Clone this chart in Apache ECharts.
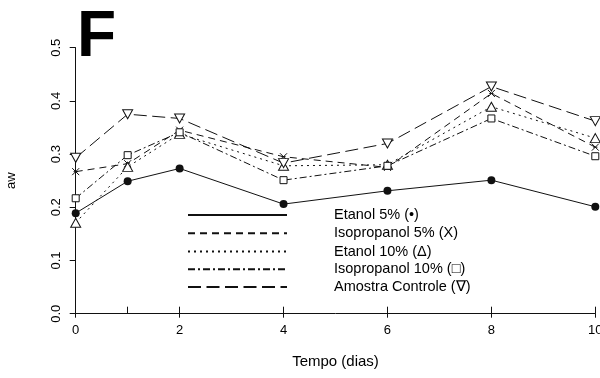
<!DOCTYPE html>
<html>
<head>
<meta charset="utf-8">
<script src="https://cdn.jsdelivr.net/npm/echarts@6/dist/echarts.min.js"></script>
<style>
  html, body { margin: 0; padding: 0; background: #fff; }
  #main { width: 600px; height: 378px; }
</style>
</head>
<body>
<div id="main"></div>
<script>
// dias de armazenamento
var dias = [0, 1, 2, 4, 6, 8, 10];
var seriesNames = ['Etanol 5% (\u2022)', 'Isopropanol 5% (X)', 'Etanol 10% (\u0394)', 'Isopropanol 10% (\u25a1)', 'Amostra Controle (\u2207)'];
// aw
var etanol5 = [0.189, 0.249, 0.273, 0.206, 0.231, 0.251, 0.201];
var isoprop5 = [0.267, 0.282, 0.345, 0.295, 0.275, 0.414, 0.313];
var etanol10 = [0.171, 0.276, 0.338, 0.278, 0.280, 0.389, 0.330];
var isoprop10 = [0.217, 0.298, 0.341, 0.251, 0.278, 0.367, 0.296];
var controle = [0.293, 0.375, 0.367, 0.283, 0.320, 0.427, 0.362];
var xTicks = [0, 2, 4, 6, 8, 10];
var xTicksMenores = [0, 1, 2, 4, 6, 8, 10];

var cor = '#111';
var fonte = 'Liberation Sans, Arial, sans-serif';

function pares(vals) {
  return dias.map(function (d, i) { return [d, vals[i]]; });
}

var hollow = { color: '#fff', borderColor: cor, borderWidth: 1 };

var myChart = echarts.init(document.getElementById('main'), null, { renderer: 'canvas' });

var option = {
  animation: false,
  backgroundColor: '#fff',
  title: {
    text: 'F',
    left: 77,
    top: 6,
    padding: 0,
    textStyle: { fontFamily: fonte, fontSize: 64, fontWeight: 'bold', color: '#000' }
  },
  grid: { left: 75.7, right: 4.7, top: 47.7, bottom: 64.3, containLabel: false, outerBoundsMode: 'none' },
  legend: {
    orient: 'vertical',
    left: 182,
    top: 202.5,
    itemWidth: 99,
    itemHeight: 14,
    itemGap: 2.7,
    itemStyle: { opacity: 0 },
    textStyle: { fontFamily: fonte, fontSize: 14.5, lineHeight: 14, color: '#000', padding: [0, 0, 0, 42] },
    data: seriesNames
  },
  xAxis: [{
    type: 'value',
    min: 0, max: 10, interval: 2,
    name: 'Tempo (dias)',
    nameLocation: 'middle',
    nameGap: 41,
    nameTextStyle: { fontFamily: fonte, fontSize: 15, color: '#000' },
    axisLine: { lineStyle: { color: cor, width: 1 } },
    axisTick: { inside: false, length: 4, lineStyle: { color: cor } },
    axisLabel: { margin: 10, fontFamily: fonte, fontSize: 13, color: '#000', customValues: xTicks },
    splitLine: { show: false }
  }, {
    type: 'value',
    min: 0, max: 10,
    position: 'bottom',
    axisLine: { show: false },
    axisTick: { show: true, inside: true, length: 7, lineStyle: { color: cor }, customValues: xTicksMenores },
    axisLabel: { show: false },
    splitLine: { show: false }
  }],
  yAxis: {
    type: 'value',
    min: 0, max: 0.5, interval: 0.1,
    name: 'aw',
    nameLocation: 'middle',
    nameRotate: 90,
    nameGap: 58,
    nameTextStyle: { fontFamily: fonte, fontSize: 13, color: '#000' },
    axisLine: { show: true, lineStyle: { color: cor, width: 1 } },
    axisTick: { show: true, inside: false, length: 6, lineStyle: { color: cor } },
    axisLabel: {
      rotate: 90, margin: 13, fontFamily: fonte, fontSize: 13, color: '#000',
      formatter: function (v) { return v.toFixed(1); }
    },
    splitLine: { show: false }
  },
  series: [
    {
      name: seriesNames[0], type: 'line', data: pares(etanol5),
      symbol: 'circle', symbolSize: 8,
      itemStyle: { color: cor },
      lineStyle: { color: cor, width: 1, type: 'solid' }
    },
    {
      name: seriesNames[1], type: 'line', data: pares(isoprop5),
      symbol: 'path://M0,0L10,10M10,0L0,10M2,5L8,5', symbolSize: 7,
      itemStyle: { color: 'none', borderColor: cor, borderWidth: 1 },
      lineStyle: { color: cor, width: 1, type: [7, 5] }
    },
    {
      name: seriesNames[2], type: 'line', data: pares(etanol10),
      symbol: 'triangle', symbolSize: [10, 9],
      itemStyle: hollow,
      lineStyle: { color: cor, width: 1, type: [2, 4] }
    },
    {
      name: seriesNames[3], type: 'line', data: pares(isoprop10),
      symbol: 'rect', symbolSize: 7,
      itemStyle: hollow,
      lineStyle: { color: cor, width: 1, type: [7, 3, 2, 3] }
    },
    {
      name: seriesNames[4], type: 'line', data: pares(controle),
      symbol: 'triangle', symbolRotate: 180, symbolSize: [10, 9],
      itemStyle: hollow,
      lineStyle: { color: cor, width: 1, type: [13, 5.5] }
    }
  ]
};
myChart.setOption(option);
</script>
</body>
</html>
